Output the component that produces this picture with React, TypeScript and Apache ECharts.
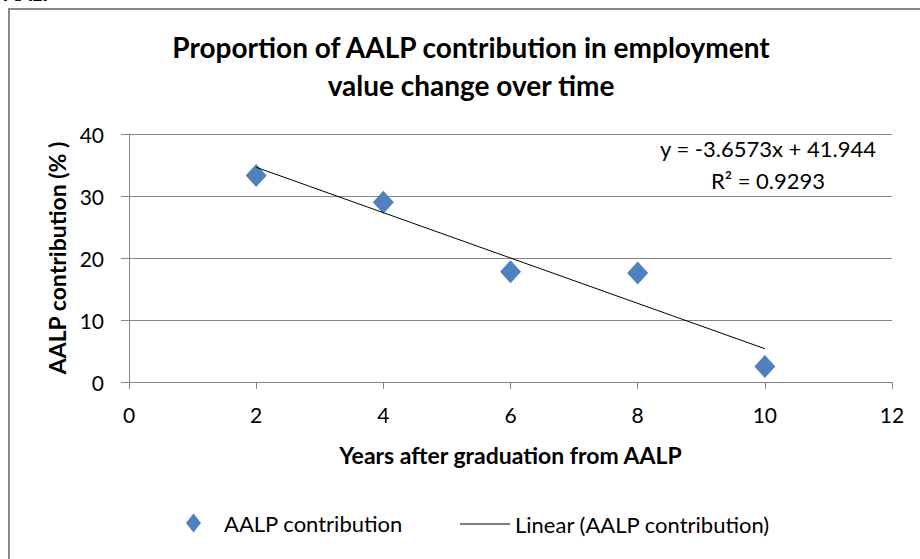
import React, { useEffect, useRef } from "react";
import * as echarts from "echarts";

const years = [2, 4, 6, 8, 10];
const contribution = [33.3, 29.0, 17.8, 17.6, 2.5];
const trendSlope = -3.6573;
const trendIntercept = 41.944;
const trendRange = [2, 10];
const xTicks = { min: 0, max: 12, interval: 2 };
const yTicks = { min: 0, max: 40, interval: 10 };
const equationLines = ["y = -3.6573x + 41.944", "R² = 0.9293"];

const FONT = "Lato, 'Open Sans', sans-serif";

export default function App() {
  const ref = useRef<HTMLDivElement>(null);
  useEffect(() => {
    if (!ref.current) return;
    const chart = echarts.init(ref.current, null, { renderer: "svg" });
    const trendData = trendRange.map((x) => [x, trendSlope * x + trendIntercept]);
    chart.setOption({
      animation: false,
      backgroundColor: "#fff",
      textStyle: { fontFamily: FONT },
      title: {
        text: "Proportion of AALP contribution in employment\nvalue change over time",
        left: 466,
        textAlign: "center",
        top: 23,
        textStyle: { fontFamily: FONT, fontWeight: "bold", fontSize: 28, lineHeight: 38, color: "#000" },
      },
      grid: { left: 129, right: 28, top: 134, bottom: 177 },
      xAxis: {
        type: "value",
        min: xTicks.min,
        max: xTicks.max,
        interval: xTicks.interval,
        name: "Years after graduation from AALP",
        nameLocation: "middle",
        nameGap: 61,
        nameTextStyle: { fontFamily: FONT, fontWeight: "bold", fontSize: 23, color: "#000" },
        axisLine: { show: true, onZero: false, lineStyle: { color: "#868686", width: 1 } },
        axisTick: { show: true, length: 7, lineStyle: { color: "#868686" } },
        axisLabel: { fontFamily: FONT, fontSize: 21, color: "#000", margin: 22 },
        splitLine: { show: false },
      },
      yAxis: {
        type: "value",
        min: yTicks.min,
        max: yTicks.max,
        interval: yTicks.interval,
        name: "AALP contribution (% )",
        nameLocation: "middle",
        nameGap: 60,
        nameTextStyle: { fontFamily: FONT, fontWeight: "bold", fontSize: 23, color: "#000" },
        axisLine: { show: true, lineStyle: { color: "#868686", width: 1 } },
        axisTick: { show: true, length: 8, lineStyle: { color: "#868686" } },
        axisLabel: { fontFamily: FONT, fontSize: 21, color: "#000", margin: 25 },
        splitLine: { show: true, lineStyle: { color: "#868686", width: 1 } },
      },
      legend: [
        {
          data: [{ name: "AALP contribution", icon: "diamond" }],
          left: 181,
          top: 507,
          itemWidth: 15,
          itemHeight: 19,
          textStyle: { fontFamily: FONT, fontSize: 22, color: "#000", padding: [0, 0, 0, 18] },
        },
        {
          data: [{ name: "Linear (AALP contribution)", icon: "rect" }],
          left: 455,
          top: 508,
          itemWidth: 50,
          itemHeight: 1,
          textStyle: { fontFamily: FONT, fontSize: 22, color: "#000" },
        },
      ],
      graphic: [
        {
          type: "rect",
          shape: { x: 9, y: 9, width: 930, height: 570 },
          style: { fill: "none", stroke: "#888", lineWidth: 2 },
          silent: true,
        },
        {
          type: "text",
          x: 4,
          y: -17,
          style: { text: "AALP", font: `bold 20px ${FONT}`, fill: "#000" },
        },
        {
          type: "text",
          x: 768,
          y: 148,
          style: {
            text: equationLines[0],
            font: `22px ${FONT}`,
            fill: "#000",
            align: "center",
            verticalAlign: "middle",
          },
        },
        {
          type: "text",
          x: 768,
          y: 180,
          style: {
            text: equationLines[1],
            font: `22px ${FONT}`,
            fill: "#000",
            align: "center",
            verticalAlign: "middle",
          },
        },
      ],
      series: [
        {
          name: "AALP contribution",
          type: "scatter",
          data: years.map((x, i) => [x, contribution[i]]),
          symbol: "diamond",
          symbolSize: [21, 23],
          itemStyle: { color: "#4F81BD", opacity: 1 },
          z: 3,
        },
        {
          name: "Linear (AALP contribution)",
          type: "line",
          data: trendData,
          symbol: "none",
          lineStyle: { color: "#000", width: 1 },
          itemStyle: { color: "#000" },
          z: 4,
        },
      ],
    });
    return () => chart.dispose();
  }, []);
  return (
    <div
      ref={ref}
      style={{ position: "absolute", left: 0, top: 0, width: 920, height: 559 }}
    />
  );
}
